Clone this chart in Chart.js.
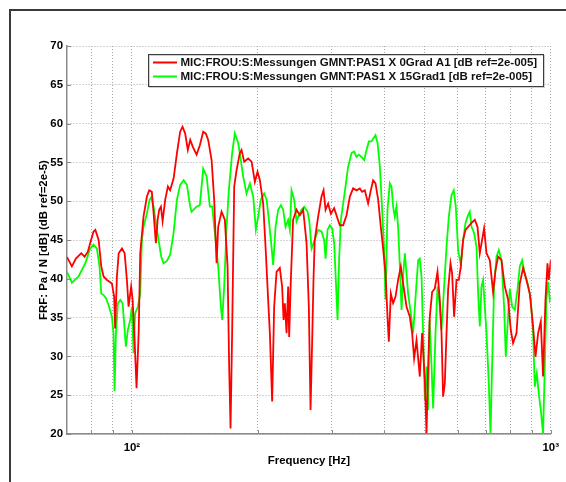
<!DOCTYPE html>
<html>
<head>
<meta charset="utf-8">
<title>FRF</title>
<script src="https://cdn.jsdelivr.net/npm/chart.js@4.4.1/dist/chart.umd.min.js"></script>
<style>
  html, body { margin: 0; padding: 0; background: #ffffff; }
  #wrap { width: 566px; height: 482px; position: relative; }
  canvas { display: block; }
</style>
</head>
<body>
<div id="wrap"><canvas id="frf" width="566" height="482"></canvas></div>
<script>
// Series labels
const seriesLabels = [
  'MIC:FROU:S:Messungen GMNT:PAS1 X 0Grad A1 [dB ref=2e-005]',
  'MIC:FROU:S:Messungen GMNT:PAS1 X 15Grad1 [dB ref=2e-005]'
];

// 0 degree measurement: frequency [Hz] and level [dB]
const freq0 = [
  70.0, 71.9, 73.5, 75.7, 77.1, 78.5, 79.8, 81.0, 81.8, 83.3,
  84.5, 85.6, 87.2, 89.6, 90.7, 91.2, 92.1, 93.0, 94.7, 96.1,
  97.3, 98.2, 99.6, 100.4, 101.5, 102.6, 103.8, 104.7, 106.6, 108.6,
  110.0, 111.6, 112.7, 114.1, 115.2, 116.2, 117.3, 118.4, 120.1, 121.9,
  123.4, 125.8, 128.1, 130.4, 132.1, 134.0, 136.0, 137.8, 139.8, 142.7,
  145.3, 148.0, 150.2, 152.1, 155.0, 157.2, 159.3, 160.7, 163.7, 166.7,
  169.2, 170.7, 172.0, 173.5, 175.5, 177.8, 181.0, 182.7, 185.4, 189.5,
  193.1, 196.6, 199.5, 202.1, 205.8, 208.5, 211.5, 213.5, 216.2, 218.6,
  221.5, 225.5, 228.4, 230.2, 231.8, 234.0, 236.1, 237.4, 239.6, 242.6,
  247.2, 251.7, 256.4, 261.2, 264.5, 267.0, 269.4, 271.4, 273.2, 278.4,
  283.6, 286.8, 290.0, 294.1, 298.5, 304.0, 307.9, 313.6, 319.4, 325.4,
  331.4, 337.4, 343.8, 350.1, 354.5, 359.8, 366.4, 371.9, 376.6, 381.6,
  387.2, 392.9, 397.9, 403.2, 407.6, 410.6, 415.1, 420.4, 426.0, 432.1,
  438.6, 444.1, 452.5, 460.8, 466.7, 471.8, 478.1, 486.8, 493.0, 500.4,
  505.1, 509.6, 514.3, 520.9, 528.7, 536.6, 543.4, 548.5, 553.3, 558.5,
  563.8, 568.8, 576.3, 581.4, 587.8, 595.6, 603.2, 609.9, 617.6, 625.8,
  634.8, 646.8, 658.6, 668.5, 677.0, 685.6, 693.2, 702.4, 715.2, 728.3,
  738.0, 748.7, 762.7, 776.7, 791.0, 802.7, 812.9, 828.3, 843.4, 858.9,
  874.8, 891.1, 907.4, 919.5, 932.9, 946.6, 958.6, 971.3, 982.1, 989.2, 1000
];
const level0 = [
  42.8, 41.6, 42.6, 43.3, 42.85, 43.5, 44.9, 46.1, 46.3, 45.0,
  41.6, 40.3, 39.85, 39.4, 37.7, 33.6, 40.3, 43.3, 43.9, 43.3,
  39.85, 36.4, 39.0, 37.3, 32.1, 25.9, 33.0, 43.3, 48.0, 50.6,
  51.4, 51.2, 48.4, 44.6, 47.6, 48.9, 49.3, 47.4, 50.2, 51.9,
  51.4, 52.95, 56.2, 58.96, 59.6, 58.75, 56.6, 57.9, 57.0, 56.0,
  57.2, 58.95, 58.7, 57.9, 55.3, 50.2, 42.0, 46.7, 48.65, 47.6,
  41.6, 28.7, 20.7, 33.0, 51.9, 54.0, 56.2, 56.6, 55.1, 55.5,
  55.1, 52.5, 53.8, 52.7, 49.7, 44.1, 37.3, 33.0, 24.2, 36.4,
  40.9, 41.4, 39.0, 34.7, 36.85, 33.0, 39.0, 32.5, 39.85, 47.6,
  48.9, 48.2, 48.9, 44.6, 36.4, 23.1, 32.0, 40.0, 45.0, 48.0,
  50.6, 51.4, 48.9, 49.7, 48.4, 49.1, 48.2, 46.9, 46.9, 48.2,
  50.6, 51.65, 51.4, 51.65, 51.2, 51.4, 49.7, 51.4, 52.7, 52.3,
  50.2, 46.7, 43.9, 40.7, 35.1, 31.9, 38.1, 36.85, 37.7, 39.85,
  41.6, 39.4, 36.4, 35.1, 33.0, 29.75, 32.1, 27.4, 33.0, 27.0,
  20.1, 28.7, 35.1, 38.3, 38.75, 40.9, 37.3, 33.0, 24.8, 26.5,
  33.0, 38.6, 42.0, 40.7, 35.1, 39.85, 39.85, 41.6, 45.0, 46.3,
  46.7, 47.2, 47.6, 46.7, 43.3, 45.0, 46.5, 43.3, 42.4, 38.3,
  41.1, 42.85, 42.4, 39.0, 37.3, 33.4, 31.7, 33.0, 39.4, 41.4,
  39.85, 38.1, 33.85, 29.95, 33.0, 34.5, 27.4, 37.3, 42.0, 39.85, 42.4
];

// 15 degree measurement: frequency [Hz] and level [dB]
const freq15 = [
  70.0, 71.9, 74.6, 77.4, 79.5, 81.0, 82.5, 83.7, 84.5, 85.6,
  86.7, 88.0, 89.6, 90.4, 90.9, 91.6, 92.6, 93.8, 95.0, 95.7,
  96.75, 97.8, 99.1, 100.0, 100.9, 101.8, 103.35, 104.7, 105.65, 106.6,
  108.6, 110.2, 111.2, 112.7, 114.1, 115.8, 117.5, 119.0, 121.2, 123.4,
  125.75, 128.1, 130.4, 132.9, 135.3, 137.8, 138.8, 142.7, 145.3, 148.0,
  150.8, 153.5, 155.5, 157.8, 160.7, 163.1, 164.3, 166.1, 168.3, 170.4,
  173.5, 176.1, 179.4, 182.0, 184.35, 187.8, 191.3, 194.8, 197.7, 200.2,
  203.2, 206.9, 209.7, 212.3, 214.7, 217.4, 220.3, 223.5, 226.8, 229.7,
  232.7, 236.1, 238.3, 240.5, 244.0, 247.2, 250.4, 254.1, 257.8, 262.6,
  265.2, 268.5, 273.2, 278.4, 283.6, 287.7, 290.0, 293.1, 296.9, 300.7,
  304.0, 306.8, 309.7, 312.4, 315.4, 319.4, 323.6, 328.3, 334.5, 339.3,
  343.8, 348.2, 353.4, 358.5, 363.2, 367.85, 373.3, 377.5, 381.6, 385.95,
  390.8, 395.7, 400.1, 403.2, 407.6, 412.8, 416.7, 420.4, 424.3, 428.2,
  432.1, 436.2, 440.3, 444.1, 448.3, 452.5, 456.5, 463.3, 469.2, 476.2,
  482.4, 486.8, 491.4, 495.7, 500.4, 505.1, 509.6, 513.5, 519.2, 523.8,
  530.7, 536.6, 543.4, 548.5, 556.4, 563.8, 570.95, 579.5, 586.8, 593.3,
  601.0, 609.9, 617.6, 625.8, 634.8, 640.8, 646.8, 656.1, 664.9, 670.8,
  677.0, 683.3, 689.4, 695.9, 702.4, 711.3, 718.0, 724.3, 732.3, 742.0,
  751.5, 762.7, 773.7, 780.95, 788.3, 798.3, 808.5, 820.6, 832.8, 843.4,
  854.2, 866.9, 882.8, 896.0, 907.4, 915.9, 926.0, 936.3, 946.6, 958.6,
  967.6, 976.6, 985.3, 994.5, 1000
];
const level15 = [
  40.9, 39.5, 40.3, 42.0, 43.9, 44.4, 43.9, 41.6, 38.1, 37.9,
  37.5, 36.6, 35.1, 33.0, 25.5, 33.0, 36.85, 37.3, 36.85, 34.7,
  31.25, 33.4, 34.7, 36.4, 30.4, 35.55, 36.4, 38.1, 45.0, 46.7,
  48.4, 50.2, 50.5, 49.3, 47.2, 45.0, 42.85, 42.0, 42.3, 43.1,
  45.9, 50.2, 52.1, 52.7, 52.1, 49.3, 48.65, 49.3, 49.5, 54.2,
  53.2, 49.3, 49.3, 45.9, 41.6, 36.4, 34.7, 39.0, 46.7, 51.4,
  56.2, 58.75, 57.5, 55.3, 53.2, 51.0, 52.3, 50.6, 46.3, 48.0,
  50.2, 51.0, 50.2, 47.6, 45.0, 41.8, 46.7, 48.9, 49.5, 48.9,
  46.7, 47.6, 46.3, 51.4, 50.2, 47.4, 48.2, 48.9, 49.3, 48.65,
  47.4, 43.9, 45.0, 46.3, 46.1, 45.0, 42.6, 46.3, 46.9, 46.5,
  44.6, 39.85, 34.7, 42.4, 47.6, 49.7, 51.9, 54.45, 56.2, 56.4,
  55.7, 56.0, 55.7, 55.3, 56.6, 57.7, 57.7, 58.1, 58.5, 57.5,
  54.45, 48.9, 43.7, 37.3, 48.9, 52.3, 51.9, 49.3, 48.0, 49.3,
  46.7, 41.6, 36.0, 40.3, 43.3, 40.7, 38.1, 35.55, 33.0, 38.1,
  42.4, 42.6, 40.3, 33.0, 24.4, 28.7, 23.1, 34.7, 28.7, 23.3,
  33.0, 39.0, 36.4, 33.4, 39.0, 44.1, 48.0, 50.8, 51.4, 49.3,
  43.7, 41.8, 45.0, 47.2, 48.2, 48.65, 46.7, 45.9, 44.1, 38.1,
  33.85, 39.0, 39.85, 36.4, 33.0, 26.5, 20.0, 28.7, 39.0, 42.85,
  43.7, 42.4, 36.4, 29.95, 33.85, 38.75, 36.4, 36.0, 38.6, 41.6,
  42.4, 40.7, 39.2, 37.3, 33.0, 26.1, 27.8, 25.2, 23.1, 20.0,
  28.7, 37.3, 39.6, 37.3, 37.7
];

// Axis ranges and grid positions
const freqMin = 70;
const freqMax = 1000;
const levelMin = 20;
const levelMax = 70;
const levelStep = 5;
const freqGrid = [80, 90, 100, 200, 300, 400, 500, 600, 700, 800, 900, 1000];
const freqLabels = { 100: '10\u00B2', 1000: '10\u00B3' };
const xTitle = 'Frequency [Hz]';
const yTitle = 'FRF: Pa / N [dB] (dB ref=2e-5)';

const FONT = "'Liberation Sans', Arial, Helvetica, sans-serif";
const TEXT_SIZE = 11.4;

function toPoints(xs, ys) {
  return xs.map((x, i) => ({ x: x, y: ys[i] }));
}

// Figure frame, inward tick marks and the boxed legend
const decorations = {
  id: 'decorations',
  beforeDraw(chart) {
    const ctx = chart.ctx;
    ctx.save();
    ctx.fillStyle = '#ffffff';
    ctx.fillRect(0, 0, chart.width, chart.height);
    ctx.strokeStyle = '#3a3a3a';
    ctx.lineWidth = 2;
    ctx.beginPath();
    ctx.moveTo(10, chart.height + 2);
    ctx.lineTo(10, 10);
    ctx.lineTo(chart.width + 2, 10);
    ctx.stroke();
    ctx.restore();
  },
  afterDraw(chart) {
    const ctx = chart.ctx;
    const area = chart.chartArea;
    const xs = chart.scales.x;
    const ys = chart.scales.y;
    ctx.save();
    ctx.strokeStyle = '#8a8a8a';
    ctx.lineWidth = 1;
    ctx.beginPath();
    for (let v = levelMin; v <= levelMax; v += levelStep) {
      const py = Math.round(ys.getPixelForValue(v)) + 0.5;
      ctx.moveTo(area.left, py);
      ctx.lineTo(area.left + 4, py);
    }
    freqGrid.forEach(f => {
      const px = Math.round(xs.getPixelForValue(f)) + 0.5;
      ctx.moveTo(px, area.bottom);
      ctx.lineTo(px, area.bottom - 4);
    });
    ctx.stroke();

    // legend box
    const bx = 148.5, by = 54.5, bw = 395, bh = 32;
    ctx.fillStyle = '#ffffff';
    ctx.fillRect(bx, by, bw, bh);
    ctx.strokeStyle = '#cfcfcf';
    ctx.lineWidth = 1;
    ctx.strokeRect(bx + 1, by + 1, bw, bh);
    ctx.strokeStyle = '#3c3c3c';
    ctx.strokeRect(bx, by, bw, bh);
    ctx.font = 'bold 11.5px ' + FONT;
    ctx.textBaseline = 'middle';
    ctx.textAlign = 'left';
    const rows = [62.5, 76.5];
    chart.data.datasets.forEach((ds, i) => {
      const ry = rows[i];
      ctx.strokeStyle = ds.borderColor;
      ctx.lineWidth = 2;
      ctx.beginPath();
      ctx.moveTo(153, ry);
      ctx.lineTo(177, ry);
      ctx.stroke();
      ctx.fillStyle = '#111111';
      ctx.fillText(ds.label, 180.5, ry + 0.5);
    });
    ctx.restore();
  }
};

const gridStyle = {
  color: '#a8a8a8',
  lineWidth: 1,
  drawTicks: false
};
const axisBorder = { display: true, color: '#8a8a8a', width: 1.5, dash: [1, 2] };

const ctx = document.getElementById('frf').getContext('2d');
new Chart(ctx, {
  type: 'scatter',
  data: {
    datasets: [
      {
        label: seriesLabels[0],
        data: toPoints(freq0, level0),
        showLine: true,
        borderColor: '#ff0000',
        backgroundColor: '#ff0000',
        borderWidth: 1.8,
        pointRadius: 0,
        pointHoverRadius: 0,
        tension: 0
      },
      {
        label: seriesLabels[1],
        data: toPoints(freq15, level15),
        showLine: true,
        borderColor: '#00ff00',
        backgroundColor: '#00ff00',
        borderWidth: 1.8,
        pointRadius: 0,
        pointHoverRadius: 0,
        tension: 0
      }
    ]
  },
  options: {
    responsive: false,
    animation: false,
    devicePixelRatio: 1,
    layout: { padding: { left: 0, top: 46, right: 15, bottom: 0 } },
    plugins: {
      legend: { display: false },
      tooltip: { enabled: false },
      title: { display: false }
    },
    scales: {
      x: {
        type: 'logarithmic',
        min: freqMin,
        max: freqMax,
        afterBuildTicks(scale) {
          scale.ticks = freqGrid.map(v => ({ value: v }));
        },
        afterFit(scale) { scale.height = 48; },
        grid: gridStyle,
        border: axisBorder,
        ticks: {
          autoSkip: false,
          maxRotation: 0,
          padding: 7,
          color: '#000000',
          font: { family: FONT, size: TEXT_SIZE, weight: 'bold' },
          callback: (v) => freqLabels[v] || ''
        },
        title: {
          display: true,
          text: xTitle,
          color: '#000000',
          font: { family: FONT, size: TEXT_SIZE, weight: 'bold' },
          padding: { top: 0, bottom: 14.2 }
        }
      },
      y: {
        type: 'linear',
        min: levelMin,
        max: levelMax,
        afterFit(scale) { scale.width = 67; },
        grid: gridStyle,
        border: axisBorder,
        ticks: {
          stepSize: levelStep,
          padding: 4,
          color: '#000000',
          font: { family: FONT, size: TEXT_SIZE, weight: 'bold' }
        },
        title: {
          display: true,
          text: yTitle,
          color: '#000000',
          font: { family: FONT, size: TEXT_SIZE, weight: 'bold' },
          padding: { top: 37.2, bottom: 0 }
        }
      }
    }
  },
  plugins: [decorations]
});
</script>
</body>
</html>
